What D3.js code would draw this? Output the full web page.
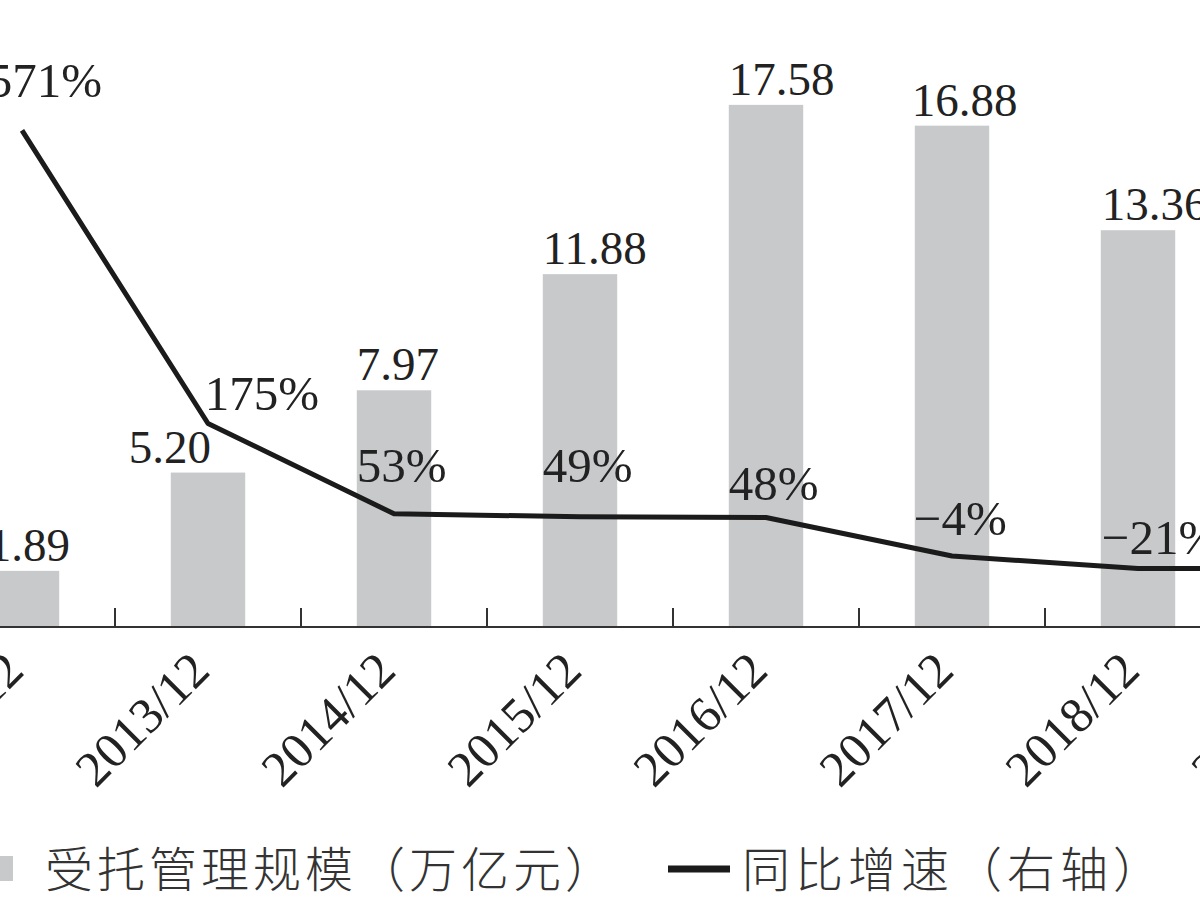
<!DOCTYPE html>
<html lang="zh">
<head>
<meta charset="UTF-8">
<title>受托管理规模</title>
<script src="https://d3js.org/d3.v7.min.js"></script>
<style>
  body { margin: 0; background: #fff; }
  svg { display: block; }
  .num { font-family: "Liberation Serif", "DejaVu Serif", serif; fill: #222; }
  .cjk { font-family: "Noto Sans CJK SC", sans-serif; fill: #333; font-weight: 300; }
</style>
</head>
<body>
<script>
// data
var categories = ["2012/12", "2013/12", "2014/12", "2015/12", "2016/12", "2017/12", "2018/12", "2019/12"];
var scaleValues = [1.89, 5.20, 7.97, 11.88, 17.58, 16.88, 13.36, 10.60];
var growthValues = [571, 175, 53, 49, 48, -4, -21, -21];
var scaleLabels = ["1.89", "5.20", "7.97", "11.88", "17.58", "16.88", "13.36", "10.60"];
var growthLabels = ["571%", "175%", "53%", "49%", "48%", "\u22124%", "\u221221%", "\u221221%"];

var w = 1200, h = 900;
var baseY = 627;

var svg = d3.select("body").append("svg")
    .attr("width", w)
    .attr("height", h);

// the picture is a crop: the band range runs past both edges
var x = d3.scaleBand()
    .domain(categories)
    .range([-71, -71 + 186 * categories.length])
    .paddingInner(0.6)
    .paddingOuter(0.3);

var y = d3.scaleLinear()
    .domain([0, 20])
    .range([baseY, baseY - 594]);

var yR = d3.scaleLinear()
    .domain([0, 100])
    .range([553, 479]);

var cx = function(d) { return x(d) + x.bandwidth() / 2; };

// bars
svg.selectAll("rect.bar")
    .data(categories)
    .enter().append("rect")
    .attr("class", "bar")
    .attr("x", function(d) { return x(d); })
    .attr("y", function(d, i) { return y(scaleValues[i]); })
    .attr("width", x.bandwidth())
    .attr("height", function(d, i) { return baseY - y(scaleValues[i]); })
    .attr("fill", "#c7c9cb");

// bar value labels, left aligned on the bar (5.20 pushed off the line)
var barDx = [3, -42, 0, 0, 0, -3, 1, 0];
svg.selectAll("text.barlab")
    .data(categories)
    .enter().append("text")
    .attr("class", "barlab num")
    .attr("x", function(d, i) { return x(d) + barDx[i]; })
    .attr("y", function(d, i) { return y(scaleValues[i]) - 10; })
    .style("font-size", "47px")
    .text(function(d, i) { return scaleLabels[i]; });

// x axis
var xAxis = d3.axisBottom(x).tickSize(0).tickPadding(0);
var gx = svg.append("g")
    .attr("transform", "translate(0," + baseY + ")")
    .call(xAxis);
gx.select(".domain").remove();
gx.append("line")
    .attr("x1", 0).attr("x2", w)
    .attr("stroke", "#333").attr("stroke-width", 2);
gx.selectAll(".tick text")
    .attr("class", "num")
    .style("font-size", "50px")
    .style("font-family", "Liberation Serif, serif")
    .attr("fill", "#222")
    .attr("text-anchor", "end")
    .attr("dy", 0)
    .attr("transform", "translate(4,46) rotate(-45)");

// boundary ticks between categories
svg.selectAll("line.sep")
    .data(categories)
    .enter().append("line")
    .attr("class", "sep")
    .attr("x1", function(d) { return cx(d) + x.step() / 2; })
    .attr("x2", function(d) { return cx(d) + x.step() / 2; })
    .attr("y1", baseY)
    .attr("y2", baseY - 19)
    .attr("stroke", "#333")
    .attr("stroke-width", 2);

// growth line (right axis)
var line = d3.line()
    .x(function(d) { return cx(d); })
    .y(function(d, i) { return yR(growthValues[i]); });

svg.append("path")
    .datum(categories)
    .attr("d", line)
    .attr("fill", "none")
    .attr("stroke", "#1b1b1b")
    .attr("stroke-width", 5)
    .attr("stroke-linejoin", "round");

// label nudges so text clears the line
var labDx = [3, 34, 0, 0, 0, -1, 1, 1];
var labDy = [-33, -14, -32, -35, -17, -21, -15, -15];

svg.selectAll("text.growlab")
    .data(categories)
    .enter().append("text")
    .attr("class", "growlab num")
    .attr("x", function(d, i) { return x(d) + labDx[i]; })
    .attr("y", function(d, i) { return yR(growthValues[i]) + labDy[i]; })
    .style("font-size", "49px")
    .text(function(d, i) { return growthLabels[i]; });

// legend
var lg = svg.append("g");
lg.append("rect")
    .attr("x", -10).attr("y", 856)
    .attr("width", 23).attr("height", 25)
    .attr("fill", "#c7c9cb");
lg.append("text")
    .attr("class", "cjk")
    .attr("x", 45).attr("y", 887)
    .style("font-size", "48px")
    .style("letter-spacing", "4px")
    .text("受托管理规模（万亿元）");
lg.append("line")
    .attr("x1", 668).attr("x2", 730)
    .attr("y1", 869).attr("y2", 869)
    .attr("stroke", "#1b1b1b")
    .attr("stroke-width", 7);
lg.append("text")
    .attr("class", "cjk")
    .attr("x", 742).attr("y", 887)
    .style("font-size", "48px")
    .style("letter-spacing", "5px")
    .text("同比增速（右轴）");
</script>
</body>
</html>
